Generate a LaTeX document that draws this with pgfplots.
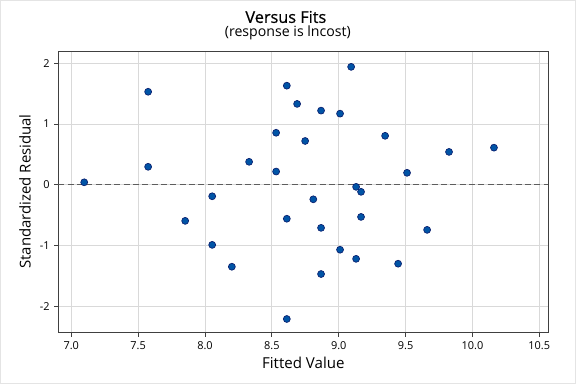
\documentclass[border=0pt]{standalone}
\usepackage{fontspec}
\setmainfont{Open Sans}
\newfontfamily\titlefont[FakeBold=0.6]{Open Sans}
\usepackage{pgfplots}
\pgfplotsset{compat=1.18}
\definecolor{markfill}{HTML}{0054A6}
\definecolor{markedge}{HTML}{0A1F6E}
\definecolor{gridc}{HTML}{D9D9D9}
\definecolor{axc}{HTML}{404040}
\begin{document}
\begin{tikzpicture}
\path[use as bounding box] (0,0) rectangle (432pt,288pt);
\draw[gridc!70, line width=0.75pt] (0.375pt,0.375pt) rectangle (431.625pt,287.625pt);
\begin{axis}[
  at={(43.7pt,38.5pt)}, anchor=south west,
  scale only axis, width=367.5pt, height=210.75pt,
  xmin=6.903, xmax=10.567, ymin=-2.435, ymax=2.19,
  xtick={7,7.5,...,10.5}, ytick={-2,-1,0,1,2},
  xticklabel style={/pgf/number format/.cd, fixed, fixed zerofill, precision=1},
  /pgf/number format/assume math mode=true,
  tick label style={font=\fontsize{8.2}{10}\selectfont, text=black},
  grid=major, major grid style={gridc, line width=0.6pt},
  axis line style={axc, line width=0.8pt},
  tick style={axc, line width=0.6pt},
  tick align=outside, major tick length=3pt,
  xtick pos=bottom, ytick pos=left,
  axis on top=false,
]
\addplot[axc!85, dashed, dash pattern=on 4.5pt off 2.5pt, line width=0.7pt, forget plot] coordinates {(6.903,0) (10.567,0)};
\addplot[only marks, mark=*, mark size=2.6pt, mark options={fill=markfill, draw=markedge, line width=0.5pt}] table {
x y
7.097 0.04
7.575 1.53
7.575 0.295
7.852 -0.595
8.054 -0.19
8.054 -0.99
8.201 -1.35
8.33 0.377
8.532 0.855
8.532 0.217
8.612 1.63
8.612 -0.56
8.612 -2.21
8.689 1.33
8.749 0.72
8.81 -0.24
8.868 1.22
8.868 -0.71
8.868 -1.47
9.01 1.17
9.01 -1.07
9.093 1.94
9.13 -0.035
9.13 -1.22
9.167 -0.117
9.167 -0.53
9.347 0.805
9.444 -1.30
9.511 0.196
9.661 -0.743
9.825 0.54
10.161 0.61
};
\end{axis}
\node[font=\titlefont\fontsize{12.2}{14}\selectfont] at (214.4pt,275.25pt) {Versus Fits};
\node[font=\fontsize{10.6}{12}\selectfont] at (215.9pt,263.25pt) {(response is lncost)};
\node[font=\fontsize{11.3}{13}\selectfont] at (227.5pt,15.75pt) {Fitted Value};
\node[font=\fontsize{11.2}{13}\selectfont, rotate=90] at (18.75pt,144.4pt) {Standardized Residual};
\end{tikzpicture}
\end{document}
